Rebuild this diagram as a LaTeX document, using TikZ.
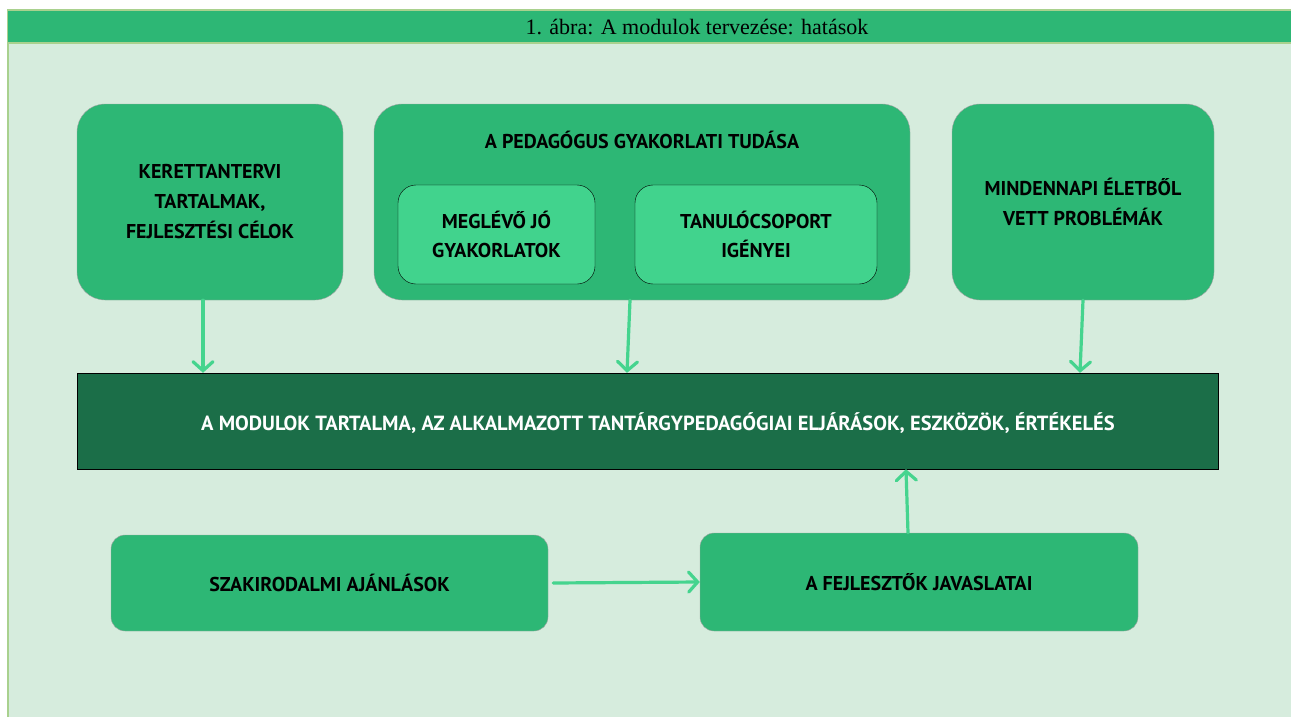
\documentclass[tikz,border=0pt]{standalone}
\usepackage{fontspec}
\setmainfont{Liberation Serif}
\newfontfamily\labelfont{PT Sans}
\usetikzlibrary{arrows.meta}

\definecolor{pagebg}{HTML}{D6ECDD}
\definecolor{framecol}{HTML}{A9D18E}
\definecolor{boxgreen}{HTML}{2DB775}
\definecolor{innergreen}{HTML}{41D38D}
\definecolor{darkgreen}{HTML}{1B6E48}
\definecolor{edgegrey}{HTML}{A5A5A5}
\definecolor{arrowgreen}{HTML}{45D48E}

\tikzset{
    bigbox/.style={draw=edgegrey, fill=boxgreen, rounded corners=28pt, inner sep=0pt,
        align=center, font=\labelfont\bfseries\fontsize{20}{30}\selectfont},
    innerbox/.style={draw=black, fill=innergreen, rounded corners=18pt, inner sep=0pt,
        align=center, font=\labelfont\bfseries\fontsize{20}{29}\selectfont},
    lowbox/.style={draw=edgegrey, fill=boxgreen, rounded corners=14pt, inner sep=0pt,
        align=center, font=\labelfont\bfseries\fontsize{20}{30}\selectfont},
    flow/.style={draw=arrowgreen, line width=3.2pt, line cap=round,
        -{Straight Barb[length=9pt, width=20pt, line cap=round]}},
}

\begin{document}
\begin{tikzpicture}[x=1pt, y=-1pt]

        \useasboundingbox (0,0) rectangle (1291,717);

        % page and title bar
        \fill[white] (0,0) rectangle (1291,717);
        \fill[pagebg] (8,43) rectangle (1291,717);
        \draw[framecol, line width=1.5pt] (8,717) -- (8,10) -- (1291,10);
        \fill[boxgreen] (8,11) rectangle (1291,42);
        \draw[framecol, line width=2pt] (8,43) -- (1291,43);
        \node (title) at (697,27) {\fontsize{22}{24}\selectfont 1. ábra: A modulok tervezése: hatások};

        % upper row
        \node[bigbox, minimum width=266pt, minimum height=196pt] (ker) at (210,202)
            {KERETTANTERVI\\TARTALMAK,\\FEJLESZTÉSI CÉLOK};
        \node[bigbox, minimum width=536pt, minimum height=196pt] (ped) at (642,202) {};
        \node[font=\labelfont\bfseries\fontsize{20}{30}\selectfont] (pedtitle) at (642,140)
            {A PEDAGÓGUS GYAKORLATI TUDÁSA};
        \node[innerbox, minimum width=197pt, minimum height=99pt] (jo) at (496.5,234.5)
            {MEGLÉVŐ JÓ\\GYAKORLATOK};
        \node[innerbox, minimum width=242pt, minimum height=99pt] (igeny) at (756,234.5)
            {TANULÓCSOPORT\\IGÉNYEI};
        \node[bigbox, minimum width=262pt, minimum height=196pt] (elet) at (1083,202)
            {MINDENNAPI ÉLETBŐL\\VETT PROBLÉMÁK};

        % modules
        \node[draw=black, fill=darkgreen, minimum width=1141pt, minimum height=96pt,
            inner sep=0pt, text=white, font=\labelfont\bfseries\fontsize{20.5}{30}\selectfont]
            (modul) at (647.5,421) {};
        \node[text=white, font=\labelfont\bfseries\fontsize{20.5}{30}\selectfont]
            (modultext) at (658,423)
            {A MODULOK TARTALMA, AZ ALKALMAZOTT TANTÁRGYPEDAGÓGIAI ELJÁRÁSOK, ESZKÖZÖK, ÉRTÉKELÉS};

        % lower row
        \node[lowbox, minimum width=437pt, minimum height=96pt] (szak) at (329.5,583)
            {SZAKIRODALMI AJÁNLÁSOK};
        \node[lowbox, minimum width=438pt, minimum height=98pt] (fejl) at (919,582)
            {A FEJLESZTŐK JAVASLATAI};

        % arrows
        \draw[flow] ([xshift=-7pt]ker.south) -- ([xshift=-7pt]ker.south |- modul.north);
        \draw[flow] ([xshift=-12pt]ped.south) -- ([xshift=-15pt]ped.south |- modul.north);
        \draw[flow] (elet.south) -- ([xshift=-3pt]elet.south |- modul.north);
        \draw[flow] ([xshift=5pt]szak.east) -- (fejl.west);
        \draw[flow] ([xshift=-11pt]fejl.north) -- ([xshift=-13pt]fejl.north |- modul.south);

    \end{tikzpicture}
\end{document}
